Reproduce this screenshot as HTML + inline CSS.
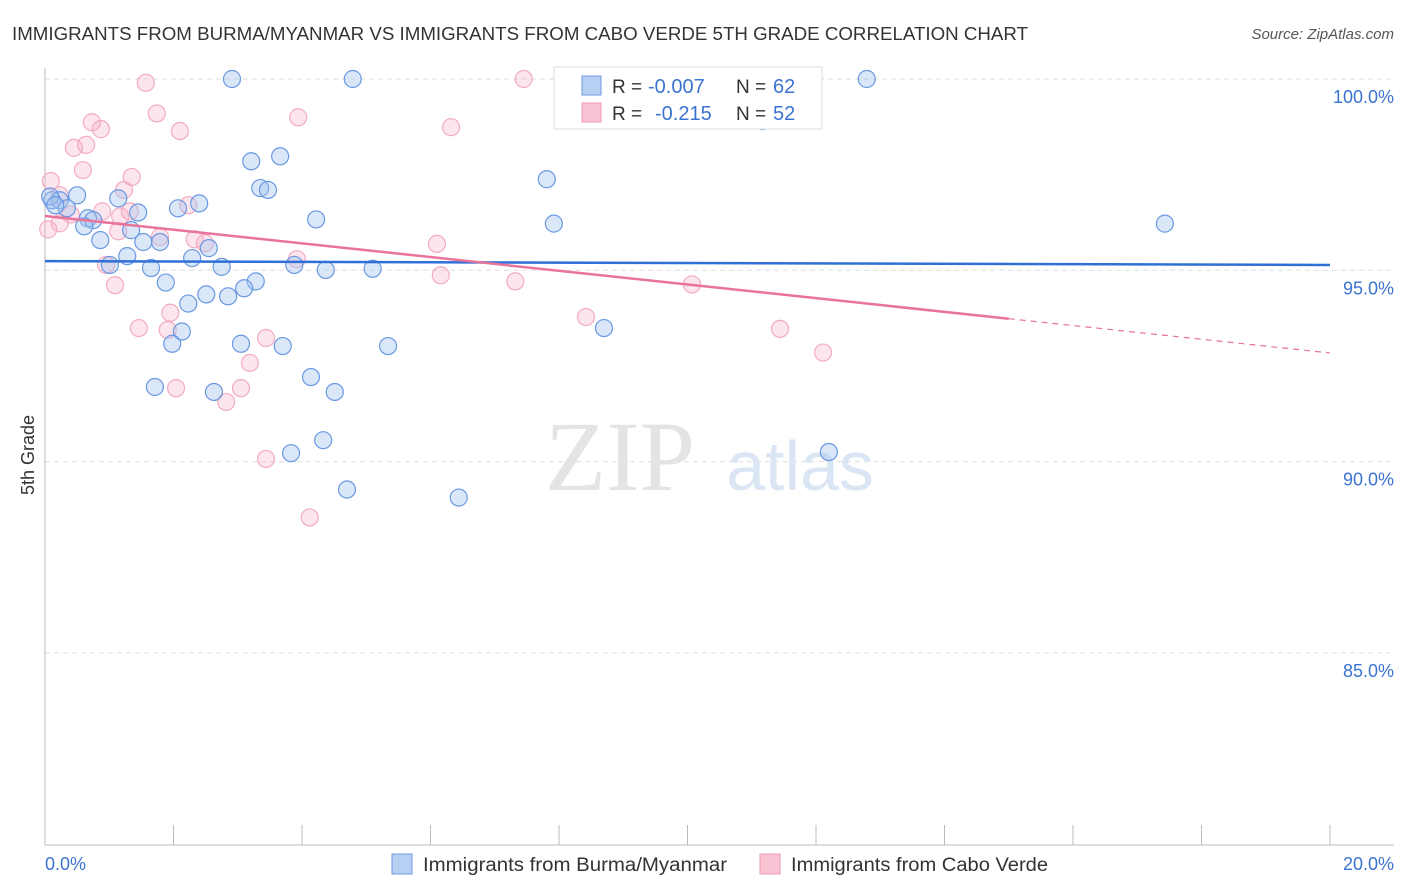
<!DOCTYPE html>
<html><head><meta charset="utf-8"><style>
body{margin:0;background:#fff;font-family:"Liberation Sans",sans-serif;}
svg{display:block}
</style></head><body>
<svg width="1406" height="892" viewBox="0 0 1406 892">
<text x="12" y="40" font-size="18" fill="#333" textLength="1016" lengthAdjust="spacingAndGlyphs">IMMIGRANTS FROM BURMA/MYANMAR VS IMMIGRANTS FROM CABO VERDE 5TH GRADE CORRELATION CHART</text>
<text x="1394" y="39" font-size="15" fill="#555" font-style="italic" text-anchor="end">Source: ZipAtlas.com</text>
<g id="grid"></g>
<text x="620" y="490" font-size="100" fill="#e4e4e4" font-family="Liberation Serif" text-anchor="middle">ZIP</text>
<text x="800" y="490" font-size="70" fill="#dbe6f5" text-anchor="middle">atlas</text>
<g id="pts"></g>
<g id="lines"></g>
<text x="34" y="455" font-size="18" fill="#333" text-anchor="middle" transform="rotate(-90 34 455)">5th Grade</text>
<text x="45" y="870" font-size="18" fill="#3b73d1">0.0%</text>
<text x="1394" y="870" font-size="18" fill="#3b73d1" text-anchor="end">20.0%</text>
<g>
<rect x="554" y="67" width="268" height="62" fill="#fff" stroke="#ddd"/>
<rect x="582" y="76" width="19" height="19" fill="#b7cff3" stroke="#6f9be0"/>
<rect x="582" y="103" width="19" height="19" fill="#f8c4d3" stroke="#ef9ab3"/>
<text x="612" y="93" font-size="19" fill="#333">R =</text>
<text x="648" y="93" font-size="20" fill="#3b73d1">-0.007</text>
<text x="736" y="93" font-size="19" fill="#333">N =</text>
<text x="773" y="93" font-size="20" fill="#3b73d1">62</text>
<text x="612" y="120" font-size="19" fill="#333">R =</text>
<text x="655" y="120" font-size="20" fill="#3b73d1">-0.215</text>
<text x="736" y="120" font-size="19" fill="#333">N =</text>
<text x="773" y="120" font-size="20" fill="#3b73d1">52</text>
</g>
<g>
<rect x="392" y="854" width="20" height="20" fill="#b7cff3" stroke="#6f9be0"/>
<text x="423" y="871" font-size="19" fill="#333" textLength="304" lengthAdjust="spacingAndGlyphs">Immigrants from Burma/Myanmar</text>
<rect x="760" y="854" width="20" height="20" fill="#f8c4d3" stroke="#ef9ab3"/>
<text x="791" y="871" font-size="19" fill="#333" textLength="257" lengthAdjust="spacingAndGlyphs">Immigrants from Cabo Verde</text>
</g>
</svg>
<script>
const yTicks=[100,95,90,85];
const yTickLabels=["100.0%","95.0%","90.0%","85.0%"];
const blueX=[2.91,4.79,12.79,9.94,11.17,3.21,3.66,3.35,3.47,7.81,17.43,7.92,4.22,0.50,0.11,0.23,1.14,2.40,2.07,1.45,0.34,0.67,0.75,0.61,1.34,0.86,1.53,1.79,2.55,1.28,2.29,1.01,1.65,2.75,3.88,4.37,5.10,1.88,3.28,3.10,2.51,2.23,2.85,8.70,2.13,1.98,3.05,3.70,5.34,4.14,1.71,2.63,4.51,4.33,3.83,12.20,4.70,6.44,0.08,0.16];
const blueY=[100,100,100,100,98.9,97.85,97.98,97.15,97.1,97.38,96.22,96.22,96.33,96.96,96.83,96.83,96.88,96.75,96.62,96.51,96.62,96.36,96.31,96.15,96.05,95.79,95.74,95.74,95.58,95.37,95.32,95.14,95.06,95.09,95.14,95.01,95.04,94.68,94.71,94.53,94.37,94.13,94.32,93.49,93.4,93.08,93.08,93.02,93.02,92.21,91.95,91.82,91.82,90.56,90.22,90.25,89.27,89.06,96.93,96.7];
const pinkX=[1.57,7.45,1.74,3.94,0.73,0.87,2.10,6.32,0.45,0.64,0.59,0.09,1.35,1.23,0.23,2.23,0.89,0.40,0.23,0.05,1.17,1.32,1.14,1.79,2.33,2.49,6.10,3.92,0.95,1.09,6.16,7.32,10.07,1.95,1.46,1.91,8.42,11.44,3.44,12.11,3.19,2.04,3.05,2.82,3.44,4.12];
const pinkY=[99.9,100,99.1,99.0,98.87,98.69,98.64,98.74,98.2,98.28,97.62,97.33,97.44,97.1,96.96,96.7,96.54,96.46,96.23,96.07,96.41,96.54,96.02,95.87,95.81,95.71,95.69,95.29,95.14,94.61,94.87,94.71,94.63,93.89,93.49,93.44,93.78,93.47,93.23,92.85,92.58,91.92,91.92,91.56,90.07,88.54];
const blueTrend=[95.24,95.14];
const pinkTrend=[96.42,92.84];
const X0=45,X1=1330,Y100=79,PX5=191.3;
const sx=v=>X0+(v/20)*(X1-X0);
const sy=v=>Y100+(100-v)/5*PX5;
const NS="http://www.w3.org/2000/svg";
function mk(t,a,p){const e=document.createElementNS(NS,t);for(const k in a)e.setAttribute(k,a[k]);p.appendChild(e);return e;}
const grid=document.getElementById('grid');
yTicks.forEach((t,i)=>{
 const l=mk('line',{x1:X0,x2:1394,y1:sy(t),y2:sy(t),stroke:'#ddd','stroke-dasharray':'5,4'},grid);
 
 
 const tx=mk('text',{x:1394,y:sy(t)+24,'font-size':18,fill:'#3b73d1','text-anchor':'end'},grid);
 tx.textContent=yTickLabels[i];
 
 
});
const ax=mk('line',{x1:X0,x2:X0,y1:68,y2:845,stroke:'#bbb'},grid);


const bx=mk('line',{x1:X0,x2:1394,y1:845,y2:845,stroke:'#bbb'},grid);


for(let i=0;i<=10;i++){const t=mk('line',{x1:sx(i*2),x2:sx(i*2),y1:825,y2:845,stroke:'#bbb'},grid);
 
 }
const pts=document.getElementById('pts');
pinkX.forEach((x,i)=>{const c=mk('circle',{cx:sx(x),cy:sy(pinkY[i]),r:8.5,fill:'rgba(245,170,195,0.3)',stroke:'#f2abc1','stroke-width':1.2},pts);
 
 });
blueX.forEach((x,i)=>{const c=mk('circle',{cx:sx(x),cy:sy(blueY[i]),r:8.5,fill:'rgba(160,195,240,0.4)',stroke:'#6a98e2','stroke-width':1.2},pts);
 
 });
const lines=document.getElementById('lines');
const bl=mk('line',{x1:sx(0),x2:sx(20),y1:sy(blueTrend[0]),y2:sy(blueTrend[1]),stroke:'#2f6fd6','stroke-width':2.5},lines);


const pm=v=>pinkTrend[0]+(pinkTrend[1]-pinkTrend[0])*v/20;
const pl=mk('line',{x1:sx(0),x2:sx(15),y1:sy(pm(0)),y2:sy(pm(15)),stroke:'#e8739b','stroke-width':2.5},lines);


const pd=mk('line',{x1:sx(15),x2:sx(20),y1:sy(pm(15)),y2:sy(pm(20)),stroke:'#e8739b','stroke-width':1.2,'stroke-dasharray':'6,5'},lines);


</script>
</body></html>
